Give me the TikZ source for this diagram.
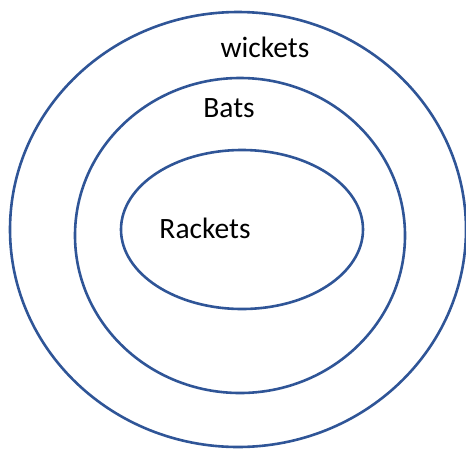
\documentclass[tikz,border=0pt]{standalone}
\usepackage{fontspec}
\setmainfont{Carlito}
\usetikzlibrary{shapes.geometric, positioning}

\definecolor{setblue}{HTML}{2F5597}
\tikzset{
    setring/.style={ellipse, draw=setblue, line width=2.6pt, inner sep=0pt},
    setlabel/.style={font=\fontsize{29.5}{34}\selectfont, inner sep=0pt}
}

\begin{document}
\begin{tikzpicture}[x=1pt, y=-1pt]
\useasboundingbox (0,0) rectangle (466,448);
% the three sets, one inside the other
\node[setring, minimum width=456pt, minimum height=435pt] (outer) at (238,229.5) {};
\node[setring, minimum width=330pt, minimum height=315pt] (middle) at (240,235.5) {};
\node[setring, minimum width=242pt, minimum height=159pt] (inner) at (242,229.5) {};

\node[setlabel] (wickets) at (265,47) {wickets};
\node[setlabel] (bats) at (229,108) {Bats};
\node[setlabel] (rackets) at (205,228) {Rackets};
\end{tikzpicture}
\end{document}
